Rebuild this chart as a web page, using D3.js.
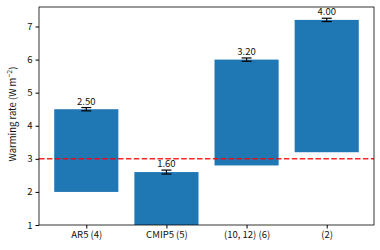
<!DOCTYPE html>
<html>
<head>
<meta charset="utf-8">
<script src="https://cdn.jsdelivr.net/npm/d3@7"></script>
<style>
  body { margin: 0; background: #fff; }
  svg text { font-family: "Noto Sans CJK SC", "Noto Sans", sans-serif; }
</style>
</head>
<body>
<div id="chart"></div>
<script>
// bar data: label, bottom of the floating bar, height, error on top
const categories = ["AR5 (4)", "CMIP5 (5)", "(10, 12) (6)", "(2)"];
const bottoms = [2.0, 1.0, 2.8, 3.2];
const heights = [2.5, 1.6, 3.2, 4.0];
const errors = [0.05, 0.06, 0.05, 0.05];
const yTicks = [1, 2, 3, 4, 5, 6, 7];
const refLine = 3;

const width = 380, height = 250;
const margin = {top: 7, right: 6, bottom: 25, left: 39};

const svg = d3.select("#chart").append("svg")
    .attr("width", width)
    .attr("height", height);

// matplotlib-like x axis: bar centres at 0..3, width 0.8, 5% margins
const xScale = d3.scaleLinear([-0.59, 3.59], [margin.left, width - margin.right]);
const yScale = d3.scaleLinear([1, 7.59], [height - margin.bottom, margin.top]);
const barW = xScale(0.8) - xScale(0);

const data = categories.map((c, i) => ({
    name: c, bottom: bottoms[i], h: heights[i], err: errors[i], i: i
}));

// bars
svg.selectAll("rect.bar")
    .data(data)
    .join("rect")
    .attr("class", "bar")
    .attr("x", d => xScale(d.i) - barW / 2)
    .attr("width", barW)
    .attr("y", d => yScale(d.bottom + d.h))
    .attr("height", d => yScale(d.bottom) - yScale(d.bottom + d.h))
    .attr("fill", "#1f77b4");

// error bars
const eb = svg.append("g").selectAll("g")
    .data(data)
    .join("g")
    .attr("stroke", "black")
    .attr("stroke-width", 1.2);
eb.append("line")
    .attr("x1", d => xScale(d.i)).attr("x2", d => xScale(d.i))
    .attr("y1", d => yScale(d.bottom + d.h - d.err))
    .attr("y2", d => yScale(d.bottom + d.h + d.err));
[-1, 1].forEach(s => {
    eb.append("line")
        .attr("x1", d => xScale(d.i) - 5).attr("x2", d => xScale(d.i) + 5)
        .attr("y1", d => yScale(d.bottom + d.h + s * d.err))
        .attr("y2", d => yScale(d.bottom + d.h + s * d.err));
});

// value labels
svg.selectAll("text.val")
    .data(data)
    .join("text")
    .attr("class", "val")
    .attr("x", d => xScale(d.i))
    .attr("y", d => yScale(d.bottom + d.h + d.err) - 3)
    .attr("text-anchor", "middle")
    .style("font-size", "9.5px")
    .attr("fill", "#111")
    .text(d => d.h.toFixed(2));

// red dashed reference line
svg.append("line")
    .attr("x1", margin.left).attr("x2", width - margin.right)
    .attr("y1", yScale(refLine)).attr("y2", yScale(refLine))
    .attr("stroke", "red")
    .attr("stroke-opacity", 0.85)
    .attr("stroke-width", 1.5)
    .attr("stroke-dasharray", "5.5,2.4");

// frame
svg.append("rect")
    .attr("x", margin.left).attr("y", margin.top)
    .attr("width", width - margin.right - margin.left)
    .attr("height", height - margin.bottom - margin.top)
    .attr("fill", "none")
    .attr("stroke", "black")
    .attr("stroke-width", 0.8);

const xAxis = d3.axisBottom(xScale)
    .tickValues(d3.range(categories.length))
    .tickFormat(i => categories[i])
    .tickSize(3.5).tickPadding(3);
svg.append("g")
    .attr("transform", `translate(0,${height - margin.bottom})`)
    .call(xAxis)
    .call(g => g.select(".domain").remove())
    .call(g => g.selectAll("text").style("font-size", "9.5px").attr("fill", "#111"));

const yAxis = d3.axisLeft(yScale)
    .tickValues(yTicks)
    .tickFormat(d3.format("d"))
    .tickSize(3.5).tickPadding(3);
svg.append("g")
    .attr("transform", `translate(${margin.left},0)`)
    .call(yAxis)
    .call(g => g.select(".domain").remove())
    .call(g => g.selectAll("text").style("font-size", "9.5px").attr("fill", "#111"));

// y title
const yt = svg.append("text")
    .attr("transform", `translate(16,${(margin.top + height - margin.bottom) / 2 - 2}) rotate(-90)`)
    .attr("text-anchor", "middle")
    .style("font-size", "9.5px")
    .attr("fill", "#111");
yt.append("tspan").text("Warming rate (W m");
yt.append("tspan").attr("dy", -4).style("font-size", "7px").text("\u22122");
yt.append("tspan").attr("dy", 4).text(")");
</script>
</body>
</html>
